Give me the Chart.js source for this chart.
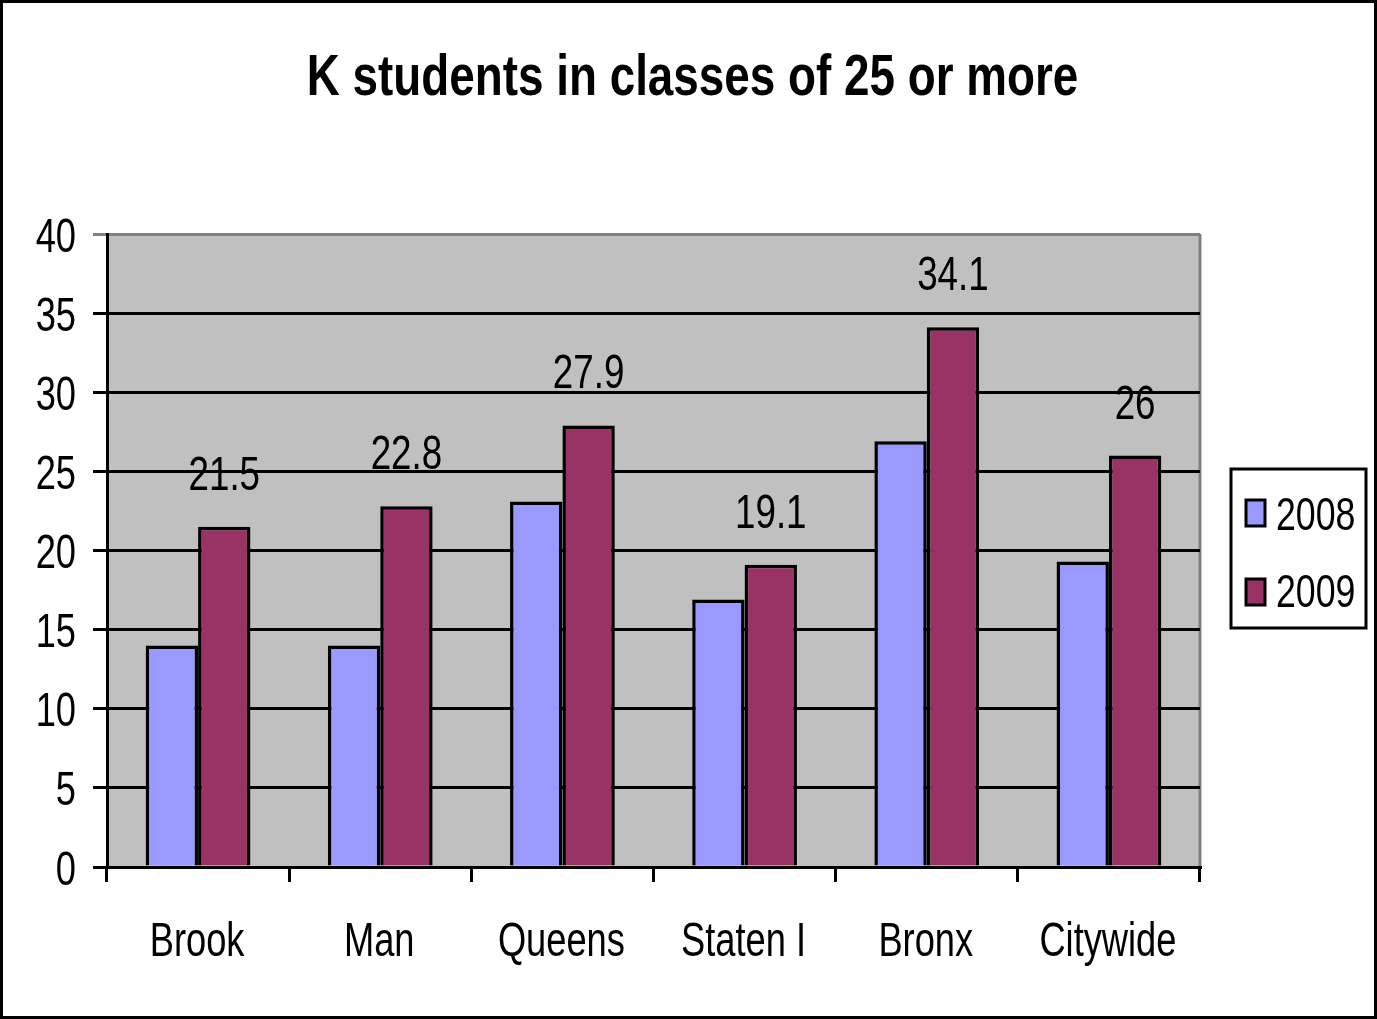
<!DOCTYPE html>
<html>
<head>
<meta charset="utf-8">
<script src="https://cdn.jsdelivr.net/npm/chart.js@4/dist/chart.umd.min.js"></script>
<style>
html,body{margin:0;padding:0;background:#fff;}
canvas{display:block;}
</style>
</head>
<body>
<canvas id="c" width="1377" height="1019"></canvas>
<script>
const categories = ['Brook', 'Man', 'Queens', 'Staten I', 'Bronx', 'Citywide'];
const values2008 = [14, 14, 23.1, 16.9, 26.9, 19.3];
const values2009 = [21.5, 22.8, 27.9, 19.1, 34.1, 26];
const seriesNames = ['2008', '2009'];
const yTicks = [0, 5, 10, 15, 20, 25, 30, 35, 40];
const titleText = 'K students in classes of 25 or more';

const FONT = "'Liberation Sans', Arial, sans-serif";
const SX = 0.74;   // horizontal compression to mimic a narrow face

function narrowText(ctx, text, x, y, size, bold, align, sx) {
  ctx.save();
  ctx.translate(x, y);
  ctx.scale(sx, 1);
  ctx.font = (bold ? 'bold ' : '') + size + 'px ' + FONT;
  ctx.textAlign = align;
  ctx.textBaseline = 'alphabetic';
  ctx.fillStyle = '#000';
  ctx.fillText(text, 0, 0);
  ctx.restore();
}

const decor = {
  id: 'decor',
  beforeDraw(chart) {
    const {ctx, chartArea: a} = chart;
    ctx.save();
    ctx.fillStyle = '#fff';
    ctx.fillRect(0, 0, chart.width, chart.height);
    ctx.fillStyle = '#C0C0C0';
    ctx.fillRect(a.left, a.top, a.right - a.left, a.bottom - a.top);
    ctx.strokeStyle = '#808080';
    ctx.lineWidth = 3;
    ctx.beginPath();
    ctx.moveTo(a.right, a.top);
    ctx.lineTo(a.right, a.bottom);
    ctx.stroke();
    ctx.restore();
  },
  afterDraw(chart) {
    const {ctx} = chart;
    const xs = chart.scales.x, ys = chart.scales.y;
    // title
    narrowText(ctx, titleText, chart.width / 2 + 4, 95, 58, true, 'center', 0.79);
    // y tick labels
    yTicks.forEach(v => {
      narrowText(ctx, String(v), 76, ys.getPixelForValue(v) + 17.5, 49, false, 'right', SX);
    });
    // x tick labels
    categories.forEach((c, i) => {
      narrowText(ctx, c, xs.getPixelForValue(i) - 1, 956, 49, false, 'center', SX);
    });
    // data labels for 2009
    const meta = chart.getDatasetMeta(1);
    meta.data.forEach((bar, i) => {
      narrowText(ctx, String(chart.data.datasets[1].data[i]), bar.x, bar.y - 37, 49, false, 'center', 0.75);
    });
    // legend
    ctx.save();
    const lx = 1231, ly = 469, lw = 135, lh = 159;
    ctx.fillStyle = '#fff';
    ctx.fillRect(lx, ly, lw, lh);
    ctx.strokeStyle = '#000';
    ctx.lineWidth = 3;
    ctx.strokeRect(lx, ly, lw, lh);
    chart.data.datasets.forEach((ds, i) => {
      const top = 500 + i * 79;
      ctx.fillStyle = ds.backgroundColor;
      ctx.fillRect(1246, top, 19, 26);
      ctx.lineWidth = 3;
      ctx.strokeStyle = '#000';
      ctx.strokeRect(1246, top, 19, 26);
      narrowText(ctx, ds.label, 1276, 530 + i * 77, 47, false, 'left', 0.76);
    });
    // outer border
    ctx.strokeStyle = '#000';
    ctx.lineWidth = 3;
    ctx.strokeRect(1.5, 1.5, chart.width - 3, chart.height - 3);
    ctx.restore();
  }
};

new Chart(document.getElementById('c'), {
  type: 'bar',
  data: {
    labels: categories,
    datasets: [
      {label: seriesNames[0], data: values2008, backgroundColor: '#9999FF', borderColor: '#000', borderWidth: 3.5},
      {label: seriesNames[1], data: values2009, backgroundColor: '#993366', borderColor: '#000', borderWidth: 3.5}
    ]
  },
  options: {
    responsive: false,
    animation: false,
    devicePixelRatio: 1,
    layout: {padding: {left: 0, right: 177, top: 234, bottom: 0}},
    datasets: {bar: {barPercentage: 1, categoryPercentage: 0.575}},
    plugins: {
      legend: {display: false},
      tooltip: {enabled: false},
      title: {display: false}
    },
    scales: {
      x: {
        offset: true,
        grid: {display: true, offset: true, drawOnChartArea: false, drawTicks: true, tickLength: 15, color: '#000', lineWidth: 3},
        border: {display: true, color: '#000', width: 3},
        ticks: {display: false},
        afterFit(s) { s.height = 152; }
      },
      y: {
        min: 0, max: 40,
        afterBuildTicks(s) { s.ticks = yTicks.map(v => ({value: v})); },
        grid: {
          color: (c) => (c.tick && c.tick.value === 40) ? '#808080' : '#000',
          lineWidth: 3, tickLength: 14, drawTicks: true
        },
        border: {display: true, color: '#000', width: 3},
        ticks: {display: false},
        afterFit(s) { s.width = 107; }
      }
    }
  },
  plugins: [decor]
});
</script>
</body>
</html>
